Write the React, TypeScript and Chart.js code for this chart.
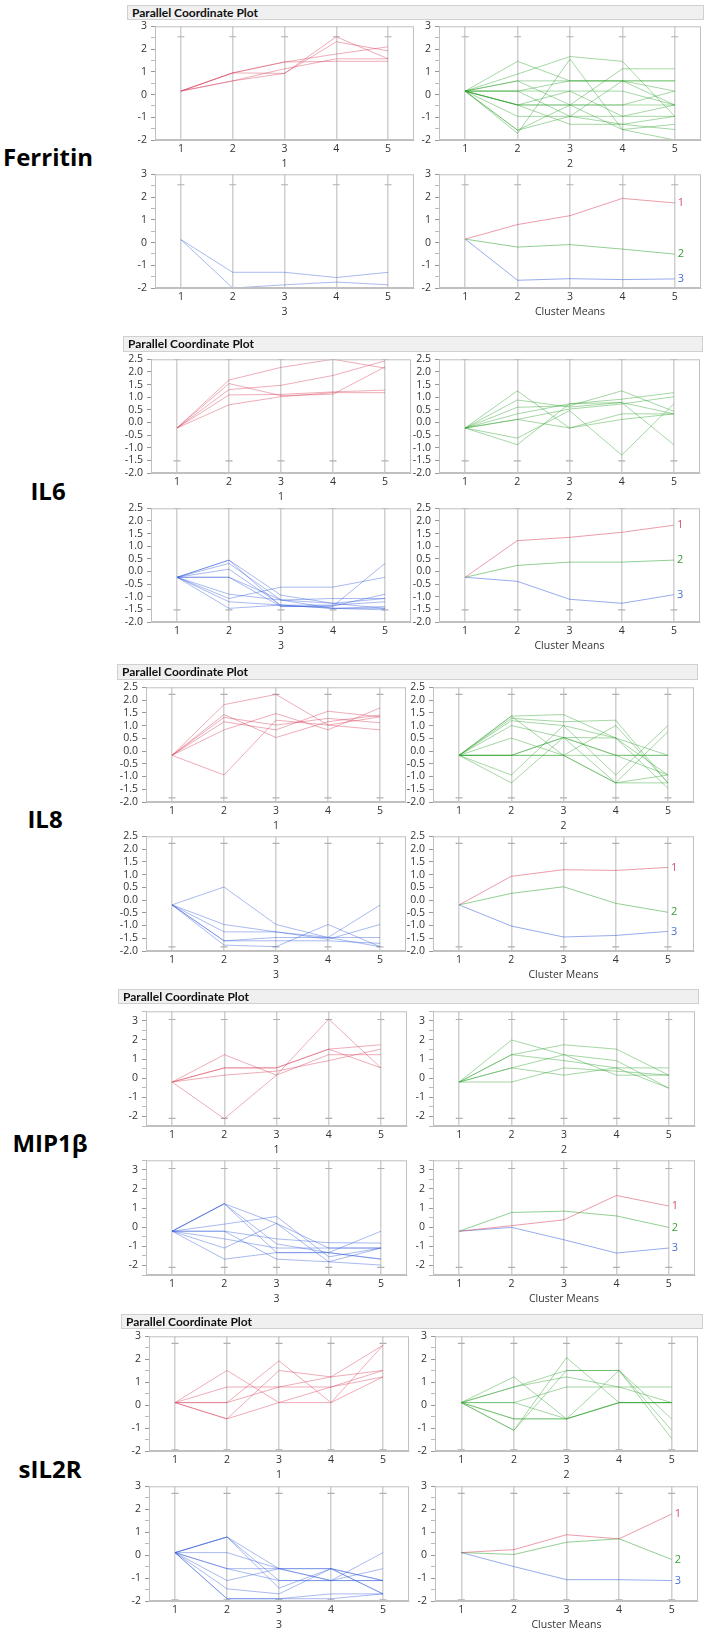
import React, { useEffect, useRef } from 'react';
import { Chart, registerables } from 'chart.js';

Chart.register(...registerables);

// ---------- categories ----------
const AXES = [1, 2, 3, 4, 5];
const GROUP_NAMES = ['Ferritin', 'IL6', 'IL8', 'MIP1β', 'sIL2R'];
const PANEL_TITLES = ['1', '2', '3', 'Cluster Means'];
const MEAN_LABELS = ['1', '2', '3'];

// ---------- Ferritin ----------
const ferritinC1 = [
  [0.15, 0.95, 1.43, 1.78, 2.1],
  [0.15, 0.95, 1.43, 1.46, 1.46],
  [0.15, 0.95, 0.93, 2.32, 1.92],
  [0.15, 0.6, 0.93, 2.54, 1.57],
  [0.15, 0.6, 1.13, 1.57, 1.57],
];
const ferritinC2 = [
  [0.15, 1.46, 0.6, 0.6, 0.6],
  [0.15, 0.9, 1.67, 1.46, -0.96],
  [0.15, -1.71, 1.56, -1.54, -1.31],
  [0.15, 0.6, 0.6, 0.6, 0.6],
  [0.15, 0.6, -0.46, 1.13, 1.13],
  [0.15, 0.15, 0.15, 0.15, -0.46],
  [0.15, 0.15, -0.96, -0.96, -0.46],
  [0.15, -0.46, -0.46, -0.46, 0.15],
  [0.15, -0.46, -0.46, -0.46, -0.46],
  [0.15, -0.46, 0.15, -0.96, -0.96],
  [0.15, -0.96, -0.96, -1.31, -1.54],
  [0.15, -1.57, -0.46, -1.54, -2.0],
  [0.15, -1.57, -0.96, 0.6, 0.15],
  [0.15, -0.46, -1.31, -1.31, -0.96],
  [0.15, 0.15, 0.6, 0.6, -0.46],
];
const ferritinC3 = [
  [0.13, -1.31, -1.31, -1.54, -1.31],
  [0.13, -2.0, -1.86, -1.74, -1.86],
];
const ferritinMeans = [
  [0.15, 0.79, 1.18, 1.94, 1.74],
  [0.15, -0.2, -0.09, -0.29, -0.51],
  [0.15, -1.66, -1.59, -1.63, -1.6],
];
const ferritinRange = [-2.0, 2.54];

// ---------- IL6 ----------
const il6C1 = [
  [-0.22, 1.68, 2.18, 2.5, 2.15],
  [-0.22, 1.3, 1.47, 1.86, 2.44],
  [-0.22, 1.54, 1.06, 1.12, 2.2],
  [-0.22, 1.09, 1.11, 1.21, 1.28],
  [-0.22, 0.7, 1.02, 1.18, 1.18],
];
const il6C2 = [
  [-0.22, 1.25, -0.22, 0.12, 0.34],
  [-0.22, 0.89, 0.61, 0.79, 0.34],
  [-0.22, 0.6, 0.66, 1.25, 0.44],
  [-0.22, 0.34, 0.74, 0.92, 1.18],
  [-0.22, 0.12, 0.53, 0.73, 1.02],
  [-0.22, 0.12, -0.22, 0.34, 0.34],
  [-0.22, -0.62, 0.47, -1.29, 0.74],
  [-0.22, -0.88, 0.74, 0.79, -0.88],
];
const il6C3 = [
  [-0.23, 0.45, -1.39, -1.37, 0.32],
  [-0.23, 0.45, -0.94, -1.26, -1.46],
  [-0.23, 0.32, -1.13, -1.46, -1.52],
  [-0.23, 0.09, -1.33, -1.33, -1.2],
  [-0.23, -0.23, -1.39, -1.37, -0.9],
  [-0.23, -0.23, -1.13, -1.07, -1.07],
  [-0.23, -1.07, -0.62, -0.62, -0.23],
  [-0.23, -0.9, -1.13, -1.26, -1.07],
  [-0.23, -1.2, -1.33, -1.46, -1.39],
  [-0.23, -1.46, -1.33, -1.46, -1.46],
];
const il6Means = [
  [-0.23, 1.22, 1.35, 1.55, 1.83],
  [-0.23, 0.24, 0.37, 0.37, 0.45],
  [-0.23, -0.39, -1.1, -1.26, -0.92],
];
const il6Range = [-1.52, 2.5];

// ---------- IL8 ----------
const il8C1 = [
  [-0.17, 1.82, 2.22, 1.02, 1.34],
  [-0.17, 1.43, 0.53, 1.15, 1.41],
  [-0.17, 1.32, 1.02, 1.28, 1.11],
  [-0.17, 1.15, 0.83, 1.56, 1.34],
  [-0.17, 0.83, 1.47, 0.83, 1.69],
  [-0.17, -0.94, 1.21, 1.02, 0.83],
];
const il8C2 = [
  [-0.17, 1.37, 1.43, 0.51, -0.94],
  [-0.17, 1.28, 1.15, 1.21, -1.25],
  [-0.17, 1.19, 1.0, 0.51, -0.17],
  [-0.17, 1.0, 0.53, -0.17, -0.17],
  [-0.17, 0.51, -0.17, -1.25, -0.94],
  [-0.17, -0.17, 0.53, 0.51, -1.46],
  [-0.17, -0.17, -0.17, -0.17, -0.17],
  [-0.17, -0.94, 1.0, -0.94, 1.0],
  [-0.17, -1.25, 0.53, -1.25, 0.76],
  [-0.17, 1.37, -0.17, 1.0, -1.25],
  [-0.17, -0.17, -0.17, -1.25, -1.25],
  [-0.17, -0.17, 0.53, -0.17, -0.94],
];
const il8C3 = [
  [-0.19, 0.51, -0.96, -1.47, -1.83],
  [-0.19, -0.96, -1.25, -1.47, -0.2],
  [-0.19, -1.25, -1.25, -1.54, -0.96],
  [-0.19, -1.6, -1.6, -1.6, -1.7],
  [-0.19, -1.77, -1.83, -0.96, -1.83],
  [-0.19, -1.6, -1.47, -1.47, -1.47],
];
const il8Means = [
  [-0.19, 0.93, 1.19, 1.16, 1.28],
  [-0.19, 0.26, 0.52, -0.13, -0.48],
  [-0.19, -1.02, -1.45, -1.39, -1.23],
];
const il8Range = [-1.84, 2.22];

// ---------- MIP1β ----------
const mipC1 = [
  [-0.2, 1.23, 0.16, 1.23, 1.23],
  [-0.2, 0.54, 0.54, 1.52, 1.75],
  [-0.2, 0.54, 0.54, 1.52, 0.54],
  [-0.2, 0.16, 0.37, 0.92, 1.52],
  [-0.2, -2.12, 0.16, 3.09, 0.54],
];
const mipC2 = [
  [-0.2, 2.0, 1.23, 0.16, 0.16],
  [-0.2, 1.23, 1.75, 1.52, 0.16],
  [-0.2, 1.23, 0.92, 0.54, -0.52],
  [-0.2, 0.54, 1.23, 0.92, -0.52],
  [-0.2, 0.54, 0.16, 0.54, 0.54],
  [-0.2, -0.2, 0.54, 0.37, 0.16],
];
const mipC3 = [
  [-0.21, 1.23, 0.2, -1.09, -1.09],
  [-0.21, 1.23, -0.87, -1.33, -0.21],
  [-0.21, 1.23, -1.33, -1.33, -1.67],
  [-0.21, 0.16, 0.56, -1.55, -1.09],
  [-0.21, -0.21, -0.61, -0.81, -0.83],
  [-0.21, -0.61, -1.09, -1.09, -1.09],
  [-0.21, -1.09, 0.2, -1.81, -1.98],
  [-0.21, -1.67, -1.33, -1.33, -1.67],
  [-0.21, -0.21, -1.67, -1.81, -1.09],
];
const mipMeans = [
  [-0.21, 0.08, 0.39, 1.66, 1.11],
  [-0.21, 0.77, 0.84, 0.59, -0.01],
  [-0.21, -0.01, -0.66, -1.35, -1.09],
];
const mipRange = [-2.1, 3.07];

// ---------- sIL2R ----------
const sil2rC1 = [
  [0.11, 1.51, 0.11, 0.11, 1.23],
  [0.11, 0.79, 0.79, 0.79, 1.51],
  [0.11, 0.11, 1.93, 0.11, 2.61],
  [0.11, 0.11, 0.79, 1.23, 1.51],
  [0.11, -0.6, 1.51, 1.23, 2.61],
  [0.11, -0.6, 0.11, 0.79, 1.23],
];
const sil2rC2 = [
  [0.11, 1.23, -0.6, 0.11, 0.11],
  [0.11, 0.79, 1.51, 1.51, -1.1],
  [0.11, 0.79, 1.23, 0.79, 0.79],
  [0.11, 0.11, 0.79, 0.79, 0.11],
  [0.11, 0.11, -0.6, 0.11, 0.11],
  [0.11, -0.6, -0.6, 1.51, -0.6],
  [0.11, -1.1, 2.07, 0.11, 0.11],
  [0.11, -1.1, 1.51, 1.51, -1.46],
  [0.11, -0.6, -0.6, 0.11, 0.11],
];
const sil2rC3 = [
  [0.11, 0.79, -0.59, -1.11, -1.11],
  [0.11, 0.79, -1.11, -1.11, -1.11],
  [0.11, 0.79, -1.44, -0.59, -1.69],
  [0.11, 0.11, -0.59, -0.59, -1.11],
  [0.11, -0.59, -0.59, -1.11, 0.11],
  [0.11, -0.59, -1.11, -1.11, -0.59],
  [0.11, -1.11, -0.59, -0.59, -1.11],
  [0.11, -1.47, -1.69, -0.59, -1.69],
  [0.11, -1.9, -1.9, -1.9, -1.69],
  [0.11, -1.9, -1.9, -1.69, -1.69],
];
const sil2rMeans = [
  [0.11, 0.24, 0.89, 0.71, 1.79],
  [0.11, 0.03, 0.56, 0.71, -0.19],
  [0.11, -0.5, -1.07, -1.07, -1.11],
];
const sil2rRange = [-1.95, 2.69];

// ---------- y-axis settings per group ----------
const Y_MIN = [-2, -2, -2, -2.5, -2];
const Y_MAX = [3, 2.5, 2.5, 3.5, 3];
const Y_LABEL_STEP = [1, 0.5, 0.5, 1, 1];
const Y_DECIMALS = [0, 1, 1, 0, 0];

const CLUSTERS = [
  [ferritinC1, ferritinC2, ferritinC3, ferritinMeans],
  [il6C1, il6C2, il6C3, il6Means],
  [il8C1, il8C2, il8C3, il8Means],
  [mipC1, mipC2, mipC3, mipMeans],
  [sil2rC1, sil2rC2, sil2rC3, sil2rMeans],
];
const RANGES = [ferritinRange, il6Range, il8Range, mipRange, sil2rRange];

// ---------- layout (pixels) ----------
const LAYOUT = [
  { header: { x: 127, y: 5, w: 577, h: 15 }, label: { x: 48, y: 156 }, lx: 155, lw: 259, rx: 439, rw: 262, top: 24, bottom: 172, h: 116 },
  { header: { x: 123, y: 336, w: 580, h: 16 }, label: { x: 48, y: 490 }, lx: 151, lw: 260, rx: 439, rw: 261, top: 357, bottom: 506, h: 116 },
  { header: { x: 117, y: 664, w: 581, h: 16 }, label: { x: 45, y: 818 }, lx: 146, lw: 260, rx: 433, rw: 261, top: 685, bottom: 834, h: 117 },
  { header: { x: 118, y: 989, w: 581, h: 15 }, label: { x: 50, y: 1142 }, lx: 146, lw: 261, rx: 433, rw: 262, top: 1009, bottom: 1158, h: 117 },
  { header: { x: 121, y: 1314, w: 582, h: 15 }, label: { x: 50, y: 1468 }, lx: 149, lw: 260, rx: 435, rw: 263, top: 1334, bottom: 1484, h: 117 },
];

const LINE_COLORS = ['rgba(215,60,85,0.42)', 'rgba(40,160,40,0.42)', 'rgba(50,90,220,0.42)'];
const MEAN_COLORS = ['rgba(215,60,85,0.5)', 'rgba(40,160,40,0.5)', 'rgba(50,90,220,0.5)'];
const LABEL_COLORS = ['#d0506a', '#3a9c3a', '#4a6fd8'];
const FONT = '"Open Sans", "Noto Sans", sans-serif';

const PAD_L = 34;
const PAD_T = 8;
const PAD_R = 8;
const PAD_B = 36;

type Rect = { x: number; y: number; w: number; h: number };

interface SubProps {
  rect: Rect;
  group: number;
  panel: number;
}

function Subplot({ rect, group, panel }: SubProps) {
  const ref = useRef<HTMLCanvasElement>(null);
  useEffect(() => {
    const isMeans = panel === 3;
    const lines = CLUSTERS[group][panel];
    const datasets: any[] = lines.map((vals: number[], i: number) => ({
      type: 'line',
      data: AXES.map((x, k) => ({ x, y: vals[k] })),
      borderColor: isMeans ? MEAN_COLORS[i] : LINE_COLORS[panel],
      borderWidth: 1,
      pointRadius: 0,
      pointHoverRadius: 0,
      fill: false,
      tension: 0,
    }));
    const range = RANGES[group];
    datasets.push({
      type: 'scatter',
      data: AXES.flatMap((x) => range.map((y) => ({ x, y }))),
      pointStyle: 'line',
      pointRadius: 3.5,
      borderColor: '#b0b0b0',
      borderWidth: 1.2,
      showLine: false,
    });

    const yMin = Y_MIN[group];
    const yMax = Y_MAX[group];
    const lstep = Y_LABEL_STEP[group];
    const dec = Y_DECIMALS[group];
    const yTicks: number[] = [];
    for (let v = yMin; v <= yMax + 1e-9; v += 0.5) yTicks.push(Math.round(v * 100) / 100);
    const isLabeled = (v: number) => Math.abs(v / lstep - Math.round(v / lstep)) < 1e-6;

    const framePlugin = {
      id: 'frame',
      afterDatasetsDraw(chart: any) {
        const { ctx, chartArea } = chart;
        ctx.save();
        ctx.strokeStyle = '#c0c0c0';
        ctx.lineWidth = 1;
        ctx.strokeRect(chartArea.left + 0.5, chartArea.top + 0.5, chartArea.right - chartArea.left - 1, chartArea.bottom - chartArea.top - 1);
        ctx.restore();
      },
    };
    const labelPlugin = {
      id: 'meanLabels',
      afterDatasetsDraw(chart: any) {
        if (!isMeans) return;
        const { ctx } = chart;
        const xs = chart.scales.x;
        const ys = chart.scales.y;
        ctx.save();
        ctx.font = `11px ${FONT}`;
        ctx.textAlign = 'left';
        ctx.textBaseline = 'middle';
        lines.forEach((vals: number[], i: number) => {
          ctx.fillStyle = LABEL_COLORS[i];
          ctx.fillText(MEAN_LABELS[i], xs.getPixelForValue(AXES[AXES.length - 1]) + 3, ys.getPixelForValue(vals[vals.length - 1]));
        });
        ctx.restore();
      },
    };

    const chart = new Chart(ref.current as HTMLCanvasElement, {
      type: 'line',
      data: { datasets },
      options: {
        animation: false,
        responsive: false,
        events: [],
        layout: { padding: { left: 0, top: PAD_T, right: PAD_R, bottom: 0 } },
        plugins: { legend: { display: false }, tooltip: { enabled: false } },
        scales: {
          x: {
            type: 'linear',
            min: 0.5,
            max: 5.5,
            afterBuildTicks: (s: any) => {
              s.ticks = AXES.map((v) => ({ value: v }));
            },
            afterFit: (s: any) => {
              s.height = PAD_B;
            },
            grid: { color: '#d0d0d0', lineWidth: 1.5, drawTicks: false },
            border: { color: '#c0c0c0' },
            ticks: {
              color: '#333',
              font: { family: FONT, size: 10.5 },
              padding: 3,
              autoSkip: false,
              maxRotation: 0,
              callback: (v: any) => String(v),
            },
            title: {
              display: true,
              text: PANEL_TITLES[panel],
              color: '#333',
              font: { family: FONT, size: 10.5 },
              padding: { top: 0, bottom: 6 },
            },
          },
          y: {
            type: 'linear',
            min: yMin,
            max: yMax,
            afterBuildTicks: (s: any) => {
              s.ticks = yTicks.map((v) => ({ value: v }));
            },
            afterFit: (s: any) => {
              s.width = PAD_L;
            },
            grid: {
              drawOnChartArea: false,
              drawTicks: true,
              tickLength: 4,
              tickColor: (c: any) => (isLabeled(c.tick.value) ? '#999' : '#bbb'),
            },
            border: { color: '#c0c0c0' },
            ticks: {
              autoSkip: false,
              color: '#333',
              font: { family: FONT, size: 10.5 },
              padding: 4,
              callback: (v: any) => (isLabeled(Number(v)) ? Number(v).toFixed(dec) : ''),
            },
          },
        },
      } as any,
      plugins: [framePlugin, labelPlugin],
    } as any);
    return () => chart.destroy();
  }, [group, panel]);

  const W = rect.w + PAD_L + PAD_R;
  const H = rect.h + PAD_T + PAD_B;
  return (
    <canvas
      ref={ref}
      width={W}
      height={H}
      style={{ position: 'absolute', left: rect.x - PAD_L, top: rect.y - PAD_T, width: W, height: H }}
    />
  );
}

function Group({ g }: { g: number }) {
  const L = LAYOUT[g];
  const rects: Rect[] = [
    { x: L.lx, y: L.top, w: L.lw, h: L.h },
    { x: L.rx, y: L.top, w: L.rw, h: L.h },
    { x: L.lx, y: L.bottom, w: L.lw, h: L.h },
    { x: L.rx, y: L.bottom, w: L.rw, h: L.h },
  ];
  return (
    <>
      <div
        style={{
          position: 'absolute',
          left: L.label.x,
          top: L.label.y,
          transform: 'translate(-50%, -50%)',
          fontFamily: FONT,
          fontWeight: 700,
          fontSize: 24,
          color: '#000',
          whiteSpace: 'nowrap',
        }}
      >
        {GROUP_NAMES[g]}
      </div>
      <div
        style={{
          position: 'absolute',
          left: L.header.x,
          top: L.header.y,
          width: L.header.w,
          height: L.header.h,
          boxSizing: 'border-box',
          background: '#f0f0f0',
          border: '1px solid #d0d0d0',
          fontFamily: 'Lato, "Open Sans", sans-serif',
          fontWeight: 700,
          fontSize: 12,
          lineHeight: `${L.header.h - 2}px`,
          paddingLeft: 4,
          color: '#111',
          whiteSpace: 'nowrap',
          overflow: 'hidden',
        }}
      >
        Parallel Coordinate Plot
      </div>
      {rects.map((r, p) => (
        <Subplot key={p} rect={r} group={g} panel={p} />
      ))}
    </>
  );
}

export default function App() {
  useEffect(() => {
    document.body.style.margin = '0';
  }, []);
  return (
    <div style={{ position: 'absolute', left: 0, top: 0, width: 709, height: 1631, background: '#fff' }}>
      {GROUP_NAMES.map((_, g) => (
        <Group key={g} g={g} />
      ))}
    </div>
  );
}
